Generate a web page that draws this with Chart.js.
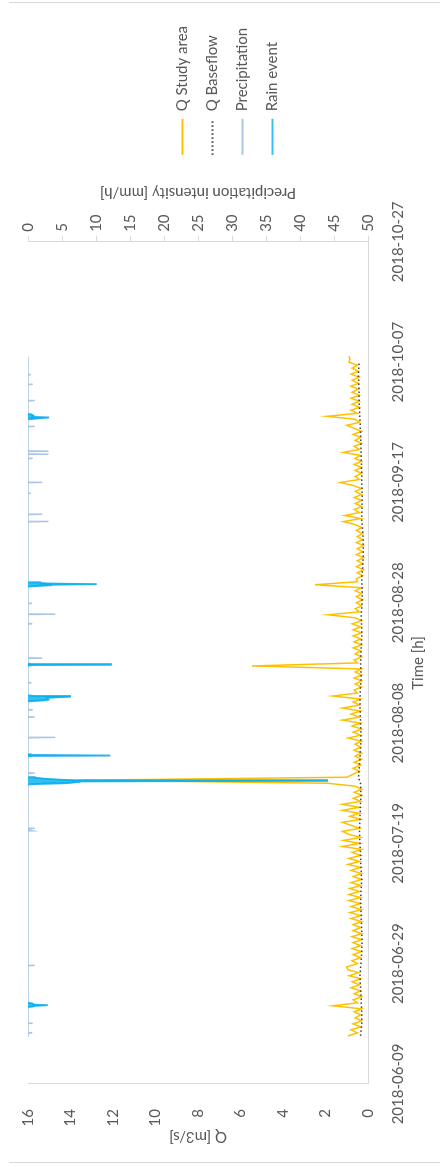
<!DOCTYPE html>
<html>
<head>
<meta charset="utf-8">
<script src="https://cdn.jsdelivr.net/npm/chart.js@4.4.1/dist/chart.umd.min.js"></script>
<style>
  html, body { margin: 0; padding: 0; background: #fff; overflow: hidden; }
  #wrap {
    position: absolute; left: 0; top: 0; width: 1167px; height: 440px;
    transform-origin: 0 0; transform: translateY(1167px) rotate(-90deg);
  }
  #frame {
    position: absolute; left: 4px; top: 9px; width: 1161px; height: 431px;
    border-left: 1px solid #d9d9d9; border-right: 1px solid #d9d9d9; box-sizing: border-box;
  }
  #chart { position: absolute; left: 0; top: 0; }
</style>
</head>
<body>
<div id="wrap">
  <div id="frame"></div>
  <canvas id="chart" width="1167" height="440"></canvas>
</div>
<script>
// time axis: days after 2018-06-09
const dateLabels = ['2018-06-09', '2018-06-29', '2018-07-19', '2018-08-08',
                    '2018-08-28', '2018-09-17', '2018-10-07', '2018-10-27']
const qTicks = [0, 2, 4, 6, 8, 10, 12, 14, 16]
const precipTicks = [0, 5, 10, 15, 20, 25, 30, 35, 40, 45, 50]

// Q study area, one reading every half day from day 8
const qStartDay = 8
const qStepDays = 0.5
const qStudyArea = [
  0.95, 0.5, 0.8, 0.35, 0.7, 0.3, 0.6, 0.35, 0.65, 0.3,
  1.65, 0.5, 0.7, 0.3, 0.65, 0.35, 0.8, 0.4, 0.75, 0.35,
  0.9, 0.45, 0.95, 1.0, 0.5, 0.75, 0.35, 0.7, 0.3, 0.75,
  0.35, 0.7, 0.3, 0.75, 0.3, 0.7, 0.35, 0.7, 0.3, 0.8,
  0.35, 0.85, 0.3, 0.8, 0.35, 0.9, 0.35, 0.9, 0.4, 0.85,
  0.35, 0.8, 0.3, 0.7, 0.3, 0.8, 0.35, 0.95, 0.4, 0.9,
  0.35, 0.75, 0.3, 1.2, 0.4, 1.15, 0.35, 0.9, 1.2, 0.4,
  0.8, 1.2, 0.35, 0.85, 0.4, 1.2, 0.4, 1.2, 0.35, 0.7,
  0.3, 0.65, 0.3, 0.6, 1.9, 13.55, 1.0, 0.7, 0.4, 0.7,
  0.35, 0.65, 0.3, 0.6, 0.3, 0.65, 0.35, 0.6, 0.3, 0.94,
  0.35, 0.7, 0.3, 0.75, 0.35, 1.2, 0.4, 0.8, 0.35, 1.2,
  0.4, 0.7, 0.35, 1.65, 0.5, 0.65, 0.3, 0.6, 0.3, 0.65,
  0.3, 0.6, 0.3, 5.46, 0.5, 0.65, 0.3, 0.6, 0.35, 0.7,
  0.3, 0.65, 0.35, 0.7, 0.3, 0.7, 0.35, 0.75, 0.3, 0.6,
  1.87, 0.4, 0.6, 0.3, 0.55, 0.25, 0.55, 0.3, 0.6, 0.3,
  2.49, 0.5, 0.55, 0.25, 0.5, 0.2, 0.55, 0.25, 0.5, 0.2,
  0.55, 0.25, 0.5, 0.2, 0.55, 0.25, 0.5, 0.25, 0.55, 0.3,
  0.6, 1.16, 0.35, 1.1, 0.4, 0.65, 0.3, 0.6, 0.3, 0.65,
  0.3, 0.6, 0.3, 0.7, 1.3, 0.4, 0.6, 0.3, 0.6, 0.3,
  0.65, 0.3, 0.6, 0.35, 1.16, 0.4, 0.65, 0.3, 0.6, 0.35,
  0.7, 0.3, 0.65, 1.0, 0.4, 0.6, 1.93, 0.5, 0.8, 0.4,
  0.75, 0.4, 0.8, 0.4, 0.75, 0.45, 0.8, 0.45, 0.75, 0.4,
  0.8, 0.45, 0.75, 0.5, 0.9, 0.85, 0.9
]

// [day, m3/s]
const qBaseflow = [
  [8, 0.35], [10, 0.3], [12, 0.3], [14, 0.32], [16, 0.35], [18, 0.38], [20, 0.33], [22, 0.3],
  [24, 0.28], [26, 0.3], [28, 0.32], [30, 0.35], [32, 0.33], [34, 0.3], [36, 0.33], [38, 0.35],
  [40, 0.38], [42, 0.4], [44, 0.38], [46, 0.36], [48, 0.33], [50, 0.35], [51, 0.45], [52, 0.42],
  [54, 0.38], [56, 0.35], [58, 0.33], [60, 0.35], [62, 0.37], [64, 0.38], [66, 0.35], [68, 0.32],
  [70, 0.35], [72, 0.33], [74, 0.3], [76, 0.3], [78, 0.32], [80, 0.28], [82, 0.27], [84, 0.3],
  [86, 0.25], [88, 0.22], [90, 0.22], [92, 0.25], [94, 0.3], [96, 0.28], [98, 0.27], [100, 0.3],
  [102, 0.3], [104, 0.32], [106, 0.33], [108, 0.35], [110, 0.37], [112, 0.4], [114, 0.42],
  [116, 0.43], [118, 0.45], [120, 0.42]
]

// [day, mm/h]
const precipitation = [
  [7.8, 0], [8.46, 0], [8.5, 0.5], [8.54, 0], [10.06, 0], [10.1, 0.7], [10.14, 0],
  [12.8, 0], [12.9, 0.8], [13.0, 1.0], [13.1, 2.9], [13.2, 0.9], [13.4, 0.6], [13.5, 0],
  [19.66, 0], [19.7, 1.0], [19.74, 0],
  [42.06, 0], [42.1, 0.7], [42.3, 0], [42.46, 0], [42.5, 1.0], [42.54, 0],
  [49.8, 0], [49.9, 2.0], [50.0, 5.5], [50.1, 6.5], [50.2, 7.2], [50.3, 7.0], [50.4, 44],
  [50.5, 6.8], [50.6, 4.5], [50.75, 2.5], [50.9, 1.0], [51.0, 0],
  [51.66, 0], [51.7, 1.0], [51.74, 0],
  [54.45, 0], [54.55, 0.6], [54.6, 12.1], [54.7, 0.4], [54.8, 0],
  [57.56, 0], [57.6, 4.0], [57.64, 0], [60.96, 0], [61.0, 1.0], [61.04, 0],
  [62.16, 0], [62.2, 0.6], [62.24, 0],
  [63.6, 0], [63.8, 2.5], [63.9, 3.0], [64.0, 3.0], [64.2, 2.8], [64.4, 6.2], [64.5, 1.0], [64.6, 0],
  [66.66, 0], [66.7, 0.4], [66.74, 0],
  [69.55, 0], [69.65, 0.8], [69.7, 12.2], [69.8, 0.5], [69.9, 0],
  [70.76, 0], [70.8, 2.1], [70.84, 0], [76.46, 0], [76.5, 0.5], [76.54, 0],
  [78.06, 0], [78.1, 4.0], [78.14, 0], [79.86, 0], [79.9, 0.6], [79.94, 0],
  [82.7, 0], [82.8, 1.5], [82.9, 3.0], [83.0, 2.8], [83.1, 10.1], [83.2, 2.9], [83.3, 1.8], [83.4, 0],
  [93.46, 0], [93.5, 3.0], [93.54, 0], [94.66, 0], [94.7, 2.1], [94.74, 0],
  [98.16, 0], [98.2, 0.4], [98.24, 0], [99.96, 0], [100.0, 2.1], [100.04, 0],
  [103.96, 0], [104.0, 0.7], [104.04, 0], [104.66, 0], [104.7, 3.0], [104.74, 0],
  [105.16, 0], [105.2, 3.0], [105.24, 0], [109.26, 0], [109.3, 1.0], [109.34, 0],
  [110.5, 0], [110.6, 0.9], [110.8, 3.1], [110.9, 0.6], [111.1, 0.8], [111.3, 0.5], [111.4, 0],
  [113.56, 0], [113.6, 1.0], [113.64, 0], [116.26, 0], [116.3, 0.7], [116.34, 0],
  [117.86, 0], [117.9, 0.3], [117.94, 0], [120.9, 0]
]

// [day, mm/h], null = no event
const rainEvent = [
  [12.8, 0], [12.9, 0.8], [13.0, 1.0], [13.1, 2.9], [13.2, 0.9], [13.4, 0.6], [13.5, 0], [13.6, null],
  [49.8, 0], [49.9, 2.0], [50.0, 5.5], [50.1, 6.5], [50.2, 7.2], [50.3, 7.0], [50.4, 44],
  [50.5, 6.8], [50.6, 4.5], [50.75, 2.5], [50.9, 1.0], [51.0, 0], [51.1, null],
  [54.45, 0], [54.55, 0.6], [54.6, 12.1], [54.7, 0.4], [54.8, 0], [54.9, null],
  [63.6, 0], [63.8, 2.5], [63.9, 3.0], [64.0, 3.0], [64.2, 2.8], [64.4, 6.2], [64.5, 1.0], [64.6, 0], [64.7, null],
  [69.55, 0], [69.65, 0.8], [69.7, 12.2], [69.8, 0.5], [69.9, 0], [70.0, null],
  [82.7, 0], [82.8, 1.5], [82.9, 3.0], [83.0, 2.8], [83.1, 10.1], [83.2, 2.9], [83.3, 1.8], [83.4, 0], [83.5, null],
  [110.5, 0], [110.6, 0.9], [110.8, 3.1], [110.9, 0.6], [111.1, 0.8], [111.3, 0.5], [111.4, 0]
]

const precipTitle = 'Precipitation intensity [mm/h]'
const textColor = '#595959'
const axisColor = '#d9d9d9'

Chart.defaults.font.family = 'Lato'
Chart.defaults.font.size = 15
Chart.defaults.color = textColor

const pairs = arr => arr.map(p => ({x: p[0], y: p[1]}))

// right axis title reads bottom-to-top, so it is drawn here
const precipTitlePlugin = {
  id: 'precipTitle',
  afterDraw(chart) {
    const s = chart.scales.y1
    const c = chart.ctx
    c.save()
    c.translate(s.right - 23, (s.top + s.bottom) / 2)
    c.rotate(-Math.PI / 2)
    c.font = '15px Lato'
    c.fillStyle = textColor
    c.textAlign = 'center'
    c.textBaseline = 'middle'
    c.fillText(precipTitle, 0, 0)
    c.restore()
  }
}

const data = {
  datasets: [{
    label: 'Q Study area',
    data: qStudyArea.map((v, i) => ({x: qStartDay + i * qStepDays, y: v})),
    yAxisID: 'y',
    borderColor: '#FFC000',
    borderWidth: 1.5,
    order: 2
  }, {
    label: 'Q Baseflow',
    data: pairs(qBaseflow),
    yAxisID: 'y',
    borderColor: '#404040',
    borderWidth: 1.5,
    borderDash: [1.5, 2.5],
    order: 1
  }, {
    label: 'Precipitation',
    data: pairs(precipitation),
    yAxisID: 'y1',
    borderColor: '#a9c6e3',
    borderWidth: 1.5,
    order: 3
  }, {
    label: 'Rain event',
    data: pairs(rainEvent),
    yAxisID: 'y1',
    borderColor: 'rgba(0,176,240,0.8)',
    backgroundColor: 'rgba(0,176,240,0.8)',
    borderWidth: 1.8,
    fill: 'origin',
    spanGaps: false,
    order: 0
  }]
}

// legend markers: plain lines with each series' own dash
function legendLabels(chart) {
  const items = Chart.defaults.plugins.legend.labels.generateLabels(chart)
  items.forEach(item => {
    const ds = chart.data.datasets[item.datasetIndex]
    item.strokeStyle = ds.borderColor
    item.lineDash = ds.borderDash || []
    item.lineWidth = 2
  })
  return items
}

const config = {
  type: 'line',
  data: data,
  plugins: [precipTitlePlugin],
  options: {
    responsive: false,
    animation: false,
    layout: {padding: {left: 4, top: 28, right: 16, bottom: 13}},
    elements: {point: {radius: 0}, line: {tension: 0}},
    plugins: {
      tooltip: {enabled: false},
      legend: {
        position: 'right',
        align: 'center',
        labels: {
          usePointStyle: true,
          pointStyle: 'line',
          pointStyleWidth: 36,
          padding: 15,
          color: textColor,
          generateLabels: legendLabels,
          sort: (a, b) => a.datasetIndex - b.datasetIndex
        }
      }
    },
    scales: {
      x: {
        type: 'linear',
        min: 0,
        max: 140,
        ticks: {
          stepSize: 20,
          autoSkip: false,
          maxRotation: 0,
          padding: 13,
          callback: (v, i) => dateLabels[i]
        },
        grid: {display: false},
        border: {color: axisColor},
        title: {display: true, text: 'Time [h]', color: textColor, padding: {top: 0, bottom: 0}},
        afterFit: s => { s.height = 59 }
      },
      y: {
        position: 'left',
        min: qTicks[0],
        max: qTicks[qTicks.length - 1],
        afterBuildTicks: s => { s.ticks = qTicks.map(v => ({value: v})) },
        ticks: {padding: 17},
        grid: {display: false},
        border: {color: axisColor},
        title: {display: true, text: 'Q [m3/s]', color: textColor, padding: {top: 17, bottom: 0}},
        afterFit: s => { s.width = 79 }
      },
      y1: {
        position: 'right',
        reverse: true,
        min: precipTicks[0],
        max: precipTicks[precipTicks.length - 1],
        afterBuildTicks: s => { s.ticks = precipTicks.map(v => ({value: v})) },
        ticks: {padding: 4},
        grid: {drawOnChartArea: false, tickLength: 6, color: axisColor},
        border: {color: axisColor},
        afterFit: s => { s.width = 72 }
      }
    }
  }
}

new Chart(document.getElementById('chart').getContext('2d'), config)
</script>
</body>
</html>
